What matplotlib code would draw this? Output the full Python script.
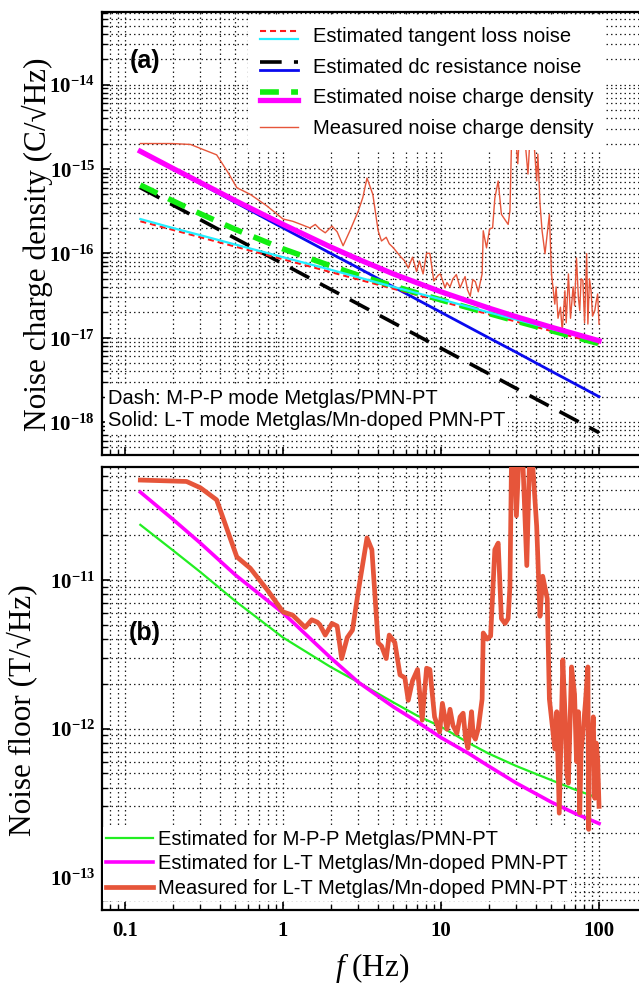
import numpy as np
import matplotlib
matplotlib.use('Agg')
import matplotlib.pyplot as plt
from matplotlib.lines import Line2D
from matplotlib.legend_handler import HandlerBase
from matplotlib.ticker import FixedLocator, LogLocator, FuncFormatter, NullFormatter

plt.rcParams['mathtext.fontset'] = 'custom'
plt.rcParams['mathtext.rm'] = 'Liberation Serif'
plt.rcParams['mathtext.it'] = 'Liberation Serif:italic'
plt.rcParams['mathtext.bf'] = 'Liberation Serif:bold'

SERIF = ['Liberation Serif', 'DejaVu Serif']
SANS = ['Liberation Sans', 'DejaVu Sans']

# ---- panel (a): estimated noise charge density (C/sqrt(Hz)) ----
f_est   = [0.125, 0.2, 0.3, 0.5, 1, 2, 3, 5, 10, 20, 30, 50, 100]
tan_lt  = [2.55e-16, 2.0e-16, 1.64e-16, 1.27e-16, 9.0e-17, 6.4e-17, 5.2e-17, 4.0e-17, 2.85e-17, 2.0e-17, 1.64e-17, 1.27e-17, 9.0e-18]
dc_lt   = [1.6e-15, 1.0e-15, 6.7e-16, 4.0e-16, 2.0e-16, 1.0e-16, 6.7e-17, 4.0e-17, 2.0e-17, 1.0e-17, 6.7e-18, 4.0e-18, 2.0e-18]
tot_lt  = [1.62e-15, 1.02e-15, 6.9e-16, 4.2e-16, 2.2e-16, 1.19e-16, 8.5e-17, 5.7e-17, 3.5e-17, 2.25e-17, 1.77e-17, 1.33e-17, 9.2e-18]
tan_mpp = [2.4e-16, 1.9e-16, 1.55e-16, 1.2e-16, 8.5e-17, 6.0e-17, 4.9e-17, 3.8e-17, 2.7e-17, 1.9e-17, 1.55e-17, 1.2e-17, 8.5e-18]
dc_mpp  = [6.0e-16, 3.75e-16, 2.5e-16, 1.5e-16, 7.5e-17, 3.75e-17, 2.5e-17, 1.5e-17, 7.5e-18, 3.75e-18, 2.5e-18, 1.5e-18, 7.5e-19]
tot_mpp = [6.46e-16, 4.2e-16, 2.94e-16, 1.92e-16, 1.13e-16, 7.1e-17, 5.5e-17, 4.1e-17, 2.8e-17, 1.94e-17, 1.57e-17, 1.21e-17, 8.5e-18]

# measured noise charge density, (f, value) pairs
meas_a = [
    (0.125, 2.0e-15), (0.16, 2.0e-15), (0.2, 2.0e-15), (0.26, 1.95e-15), (0.3, 1.75e-15),
    (0.38, 1.47e-15), (0.45, 9.0e-16), (0.51, 6.0e-16), (0.62, 5.0e-16), (0.79, 3.65e-16),
    (1.0, 2.55e-16), (1.15, 2.4e-16), (1.3, 2.2e-16), (1.48, 2.0e-16), (1.6, 2.2e-16),
    (1.71, 1.94e-16), (1.85, 1.75e-16), (2.04, 2.1e-16), (2.2, 1.8e-16), (2.4, 1.23e-16),
    (2.65, 1.85e-16), (3.0, 3.2e-16), (3.2, 4.6e-16), (3.4, 7.8e-16), (3.7, 5.0e-16),
    (4.0, 1.85e-16), (4.2, 1.4e-16), (4.5, 1.55e-16), (4.7, 1.3e-16), (5.0, 1.16e-16),
    (5.5, 9.3e-17), (5.9, 8.1e-17), (6.2, 6.7e-17), (6.6, 9.0e-17), (7.0, 6.1e-17),
    (7.3, 8.1e-17), (7.7, 5.7e-17), (8.1, 1.0e-16), (8.5, 1.0e-16), (9.0, 4.7e-17),
    (9.6, 5.5e-17), (9.9, 5.7e-17), (10.6, 3.9e-17), (10.9, 4.5e-17), (11.4, 4.0e-17),
    (11.9, 5.0e-17), (12.5, 5.6e-17), (13.2, 3.9e-17), (13.7, 4.6e-17), (14.2, 5.3e-17),
    (14.7, 3.7e-17), (15.3, 3.1e-17), (15.9, 4.9e-17), (16.5, 4.6e-17), (17.2, 3.5e-17),
    (18.2, 5.7e-17), (18.5, 1.85e-16), (19.4, 1.16e-16), (20.3, 1.95e-16), (21.2, 2.0e-16),
    (21.9, 4.5e-16), (23.0, 7.2e-16), (24.1, 2.9e-16), (25.4, 2.5e-16), (26.6, 2.2e-16),
    (27.3, 3.2e-16), (28.0, 2.5e-15), (29.0, 4.0e-15), (30.6, 1.15e-15), (32.0, 5.0e-15),
    (33.5, 3.0e-15), (35.5, 8.7e-16), (37.0, 3.5e-15), (38.5, 2.5e-15), (40.3, 7.2e-16),
    (41.0, 1.5e-15), (42.3, 3.9e-16), (43.6, 1.85e-16), (45.5, 9.9e-17), (48.5, 2.9e-16),
    (50.0, 5.7e-17), (52.5, 2.5e-17), (53.5, 4.0e-17), (55.0, 1.7e-17), (57.0, 2.3e-17),
    (58.5, 1.2e-17), (60.8, 3.6e-17), (62.0, 1.5e-17), (64.0, 5.7e-17), (66.0, 1.7e-17),
    (68.5, 4.0e-17), (70.0, 2.4e-17), (72.0, 8.8e-17), (74.0, 3.0e-17), (75.5, 2.1e-17),
    (77.0, 5.0e-17), (79.0, 4.8e-17), (81.0, 1.5e-17), (83.5, 9.9e-17), (85.0, 1.45e-17),
    (87.0, 5.0e-17), (89.0, 3.6e-17), (91.0, 1.8e-17), (94.0, 2.1e-17), (96.0, 2.7e-17),
    (98.0, 3.3e-17), (100.0, 1.45e-17),
]

# ---- panel (b): noise floor (T/sqrt(Hz)) ----
f_floor   = [0.125, 0.2, 0.3, 0.5, 1, 2, 3, 5, 7, 10, 15, 20, 30, 50, 70, 100]
floor_mpp = [2.35e-11, 1.59e-11, 1.13e-11, 7.2e-12, 4.1e-12, 2.6e-12, 2.05e-12, 1.5e-12, 1.23e-12, 1.03e-12, 8.0e-13, 6.8e-13, 5.6e-13, 4.5e-13, 3.9e-13, 3.4e-13]
floor_lt  = [3.9e-11, 2.57e-11, 1.77e-11, 1.08e-11, 6.0e-12, 3.0e-12, 2.05e-12, 1.4e-12, 1.12e-12, 8.7e-13, 6.8e-13, 5.6e-13, 4.3e-13, 3.2e-13, 2.7e-13, 2.3e-13]

meas_b = [
    (0.125, 4.7e-11), (0.245, 4.6e-11), (0.3, 4.17e-11), (0.38, 3.46e-11), (0.51, 1.43e-11),
    (0.62, 1.2e-11), (0.8, 8.5e-12), (1.0, 6.1e-12), (1.15, 5.8e-12), (1.38, 4.8e-12),
    (1.52, 5.4e-12), (1.65, 5.2e-12), (1.71, 5.0e-12), (1.85, 4.26e-12), (2.04, 5.1e-12),
    (2.2, 4.9e-12), (2.35, 2.96e-12), (2.55, 4.1e-12), (2.75, 4.6e-12), (3.0, 8.5e-12),
    (3.4, 1.92e-11), (3.65, 1.6e-11), (4.0, 3.77e-12), (4.2, 3.6e-12), (4.5, 2.96e-12),
    (4.7, 4.26e-12), (5.1, 3.8e-12), (5.5, 2.3e-12), (5.9, 2.2e-12), (6.2, 1.55e-12),
    (6.6, 2.1e-12), (7.1, 2.5e-12), (7.6, 1.14e-12), (8.1, 2.55e-12), (8.5, 2.5e-12),
    (9.1, 1.2e-12), (9.8, 9.5e-13), (10.2, 1.48e-12), (10.9, 9.9e-13), (11.4, 1.35e-12),
    (11.9, 1.05e-12), (12.6, 9.3e-13), (13.2, 1.2e-12), (13.8, 1.27e-12), (14.3, 8.6e-13),
    (14.8, 7.4e-13), (15.6, 1.3e-12), (16.0, 9.0e-13), (16.5, 8.5e-13), (17.2, 1.0e-12),
    (18.2, 1.58e-12), (18.5, 4.4e-12), (19.6, 4.0e-12), (20.6, 4.2e-12), (21.9, 1.6e-11),
    (23.0, 1.77e-11), (24.1, 5.5e-12), (25.4, 5.1e-12), (26.6, 5.5e-12), (27.3, 9.1e-12),
    (28.0, 8.0e-11), (29.0, 9.0e-11), (30.0, 2.7e-11), (31.5, 9.0e-11), (33.0, 6.0e-11),
    (34.9, 1.25e-11), (36.5, 8.0e-11), (38.0, 6.0e-11), (40.3, 2.3e-11), (42.3, 5.7e-12),
    (44.0, 1.06e-11), (47.0, 7.5e-12), (48.5, 1.58e-12), (52.5, 7.3e-13), (54.0, 1.3e-12),
    (56.0, 2.7e-13), (59.0, 2.9e-12), (61.0, 1.2e-12), (62.5, 5.0e-13), (64.0, 4.3e-13),
    (67.0, 2.6e-12), (70.0, 1.7e-12), (72.0, 6.0e-13), (74.0, 1.3e-12), (75.5, 2.7e-13),
    (77.0, 7.0e-13), (79.0, 9.3e-13), (82.0, 1.5e-12), (85.0, 2.6e-12), (86.0, 2.1e-13),
    (87.5, 1.0e-12), (89.0, 6.8e-13), (92.0, 1.2e-12), (94.0, 3.4e-13), (96.0, 8.0e-13),
    (98.0, 6.2e-13), (100.0, 3.0e-13),
]

YTICKS_A = [1e-18, 1e-17, 1e-16, 1e-15, 1e-14]
YTICKS_B = [1e-13, 1e-12, 1e-11]
XTICKS = [0.1, 1, 10, 100]

MEAS = '#e6553a'


class StackedHandler(HandlerBase):
    """Draw the lines of a tuple handle one above the other."""
    def create_artists(self, legend, orig_handle, xdescent, ydescent,
                       width, height, fontsize, trans):
        out = []
        mid = (height - ydescent) / 2.0
        offs = [0.28 * height, -0.28 * height]
        for h, dy in zip(orig_handle, offs):
            ln = Line2D([-xdescent, -xdescent + width], [mid + dy, mid + dy])
            ln.update_from(h)
            ln.set_transform(trans)
            out.append(ln)
        return out


def style_axes(ax, ylim, yticks):
    ax.set_xscale('log')
    ax.set_yscale('log')
    ax.set_xlim(0.0715, 200)
    ax.set_ylim(*ylim)
    ax.xaxis.set_major_locator(FixedLocator(XTICKS))
    ax.xaxis.set_minor_locator(LogLocator(base=10, subs=np.arange(2, 10), numticks=20))
    ax.yaxis.set_major_locator(FixedLocator(yticks))
    ax.yaxis.set_minor_locator(LogLocator(base=10, subs=np.arange(2, 10), numticks=20))
    ax.grid(True, which='both', color='#222222', linestyle=(0, (1.2, 2.4)), linewidth=0.9)
    ax.tick_params(which='both', direction='in', top=False, right=False)
    ax.tick_params(which='major', length=6, width=1.2)
    ax.tick_params(which='minor', length=3.5, width=1.0)
    ax.tick_params(axis='y', pad=5)
    ax.tick_params(axis='x', pad=8)
    for s in ax.spines.values():
        s.set_linewidth(1.6)
    ax.yaxis.set_major_formatter(FuncFormatter(
        lambda v, p: r'$\mathbf{10^{%d}}$' % int(round(np.log10(v)))))
    ax.yaxis.set_minor_formatter(NullFormatter())
    for lab in ax.get_yticklabels():
        lab.set_fontsize(15)


fig = plt.figure(figsize=(6.39, 9.84), dpi=100)
axa = fig.add_axes([102 / 639, 1 - 455 / 984, 544.6 / 639, 443 / 984])
axb = fig.add_axes([102 / 639, 1 - 910 / 984, 544.6 / 639, 443 / 984])

style_axes(axa, (10 ** -18.39, 10 ** -13.14), YTICKS_A)
style_axes(axb, (10 ** -13.22, 10 ** -10.24), YTICKS_B)

# ---- panel (a) ----
fa, va = zip(*meas_a)
l_meas, = axa.plot(fa, va, color=MEAS, lw=1.0, zorder=3)
l_dcm, = axa.plot(f_est, dc_mpp, color='black', lw=2.6, ls=(0, (6.0, 3.4)), zorder=2)
l_blue, = axa.plot(f_est, dc_lt, color='#0a0aee', lw=2.0, zorder=2)
l_red, = axa.plot(f_est, tan_mpp, color='#ff1a1a', lw=1.5, ls=(0, (2.9, 1.9)), zorder=2)
l_grn, = axa.plot(f_est, tot_mpp, color='#11ee11', lw=4.0, ls=(0, (3.4, 2.2)), zorder=2)
l_cyan, = axa.plot(f_est, tan_lt, color='#22eeff', lw=1.6, zorder=2)
l_mag, = axa.plot(f_est, tot_lt, color='#ff00ff', lw=3.8, zorder=4)
axa.tick_params(axis='x', labelbottom=False)

leg_a = axa.legend(
    handles=[(l_red, l_cyan), (l_dcm, l_blue), (l_grn, l_mag), l_meas],
    labels=['Estimated tangent loss noise', 'Estimated dc resistance noise',
            'Estimated noise charge density', 'Measured noise charge density'],
    handler_map={tuple: StackedHandler()},
    loc='upper left', bbox_to_anchor=(248 / 639, 1 - 15 / 984), bbox_transform=fig.transFigure,
    prop={'family': SANS, 'size': 14.5}, frameon=True, fancybox=False, framealpha=1,
    edgecolor='none', facecolor='white', borderaxespad=0, borderpad=0.6,
    handlelength=1.9, handletextpad=0.75, labelspacing=0.58)
leg_a.set_zorder(6)

axa.text(0.011, 0.102, 'Dash: M-P-P mode Metglas/PMN-PT\nSolid: L-T mode Metglas/Mn-doped PMN-PT',
         transform=axa.transAxes, ha='left', va='center', family=SANS, fontsize=14.5,
         linespacing=1.2, zorder=6,
         bbox=dict(facecolor='white', edgecolor='none', pad=2))
axa.text(145 / 639, 1 - 61 / 984, '(a)', transform=fig.transFigure, ha='center', va='center',
         family=SANS, fontsize=18, fontweight='bold', zorder=6)

# ---- panel (b) ----
fb, vb = zip(*meas_b)
l_bg, = axb.plot(f_floor, floor_mpp, color='#22ee22', lw=1.6, zorder=3)
l_bm, = axb.plot(f_floor, floor_lt, color='#ff00ff', lw=2.6, zorder=3)
l_bmeas, = axb.plot(fb, vb, color=MEAS, lw=3.4, zorder=4)

axb.xaxis.set_major_formatter(FuncFormatter(lambda v, p: '%g' % v))
axb.xaxis.set_minor_formatter(NullFormatter())
for lab in axb.get_xticklabels():
    lab.set_family(SERIF)
    lab.set_fontweight('bold')
    lab.set_fontsize(15)

leg_b = axb.legend(
    handles=[l_bg, l_bm, l_bmeas],
    labels=['Estimated for M-P-P Metglas/PMN-PT', 'Estimated for L-T Metglas/Mn-doped PMN-PT',
            'Measured for L-T Metglas/Mn-doped PMN-PT'],
    loc='lower left', bbox_to_anchor=(-0.0147, 0), borderaxespad=0.45,
    prop={'family': SANS, 'size': 14.5}, frameon=True, fancybox=False, framealpha=1,
    edgecolor='none', facecolor='white', borderpad=0.15,
    handlelength=2.35, handletextpad=0.25, labelspacing=0.28)
leg_b.set_zorder(6)
axb.text(145 / 639, 1 - 633 / 984, '(b)', transform=fig.transFigure, ha='center', va='center',
         family=SANS, fontsize=18, fontweight='bold', zorder=6)

# ---- axis titles ----
fig.text(37 / 639, 1 - 244 / 984, 'Noise charge density (C/\u221aHz)', rotation=90,
         ha='center', va='center', family=SERIF, fontsize=22.5)
fig.text(22 / 639, 1 - 710 / 984, 'Noise floor (T/\u221aHz)', rotation=90,
         ha='center', va='center', family=SERIF, fontsize=22.5)
fig.text(372 / 639, 1 - 968 / 984, r'$f$ (Hz)', ha='center', va='center',
         family=SERIF, fontsize=22.5)

fig.savefig('out.png', dpi=100)
